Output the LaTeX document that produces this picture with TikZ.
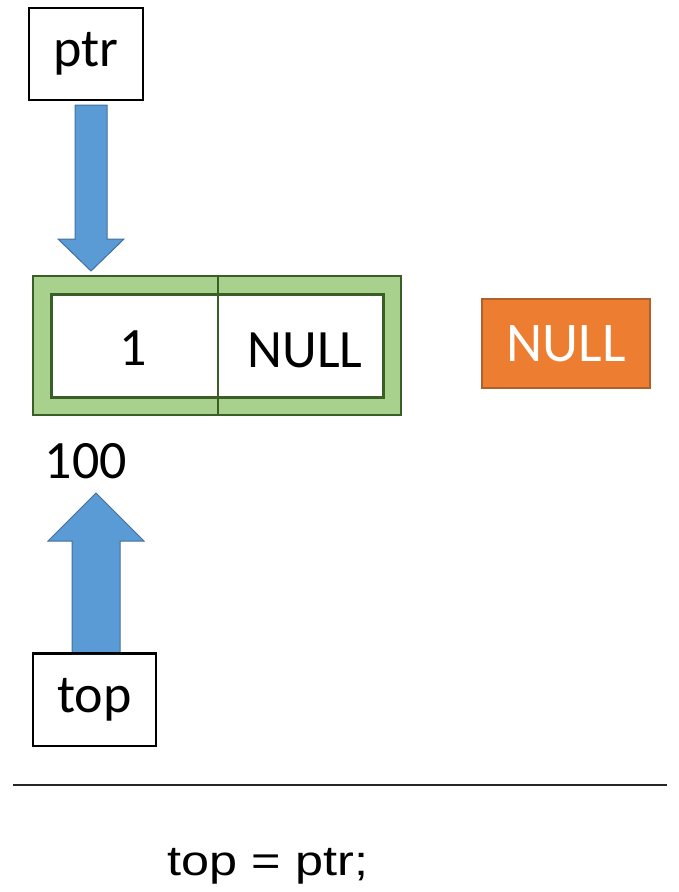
\documentclass[tikz,border=0pt]{standalone}
\usepackage{fontspec}
\setmainfont{Carlito}
\newfontfamily\codefont{Liberation Sans}
\usepackage{graphicx}
\definecolor{arrowfill}{HTML}{5B9BD5}
\definecolor{arrowline}{HTML}{41719C}
\definecolor{nodefill}{HTML}{A9D18E}
\definecolor{nodeline}{HTML}{3B5E27}
\definecolor{nullfill}{HTML}{ED7D31}
\definecolor{nullline}{HTML}{B0602A}
\tikzset{
  varbox/.style={draw=black, line width=2.2pt, fill=white, inner sep=0pt,
    font=\fontsize{54}{60}\selectfont},
  blockarrow/.style={fill=arrowfill, draw=arrowline, line width=1pt},
  cellbox/.style={inner sep=0pt, font=\fontsize{54}{60}\selectfont},
}
\begin{document}
\begin{tikzpicture}[x=1pt,y=-1pt]
\useasboundingbox (0,0) rectangle (679,892);

% pointer variable ptr
\node[varbox, minimum width=114pt, minimum height=92pt] (ptr) at (86,54) {ptr};

% list node: green frame, white inner box, divider
\draw[fill=nodefill, draw=nodeline, line width=1.5pt] (33,276) rectangle (401,415);
\draw[fill=white, draw=nodeline, line width=3pt] (51,294) rectangle (383,397);
\draw[draw=nodeline, line width=2pt] (218,276) -- (218,415);
\node[cellbox] (data) at (133,348) {1};
\node[cellbox] (next) at (305,350) {NULL};
\coordinate (nodetop) at (91,276);

% address label
\node[cellbox] (addr) at (86,461) {100};

% pointer variable top
\node[varbox, minimum width=123pt, minimum height=92pt] (top) at (94.5,700) {top};

% ptr -> node (block arrow)
\draw[blockarrow] (75,105) -- (107,105) -- (107,239) -- (124,239) -- (91,271)
  -- (58,239) -- (75,239) -- cycle;

% top -> node (block arrow)
\draw[blockarrow] (72,654) -- (72,541) -- (48,541) -- (96,493) -- (144,541)
  -- (120,541) -- (120,654);
\draw[black, line width=2.2pt] (top.north west) -- (top.north east);

% standalone NULL
\node[fill=nullfill, draw=nullline, line width=1.5pt, minimum width=168pt,
  minimum height=89pt, text=white, inner sep=0pt,
  font=\fontsize{56}{60}\selectfont] (null) at (566,343.5) {NULL};

% separator
\coordinate (sepL) at (13,785);
\coordinate (sepR) at (667,785);
\draw[black!85, line width=2.5pt] (sepL) -- (sepR);

% statement
\node[inner sep=0pt, anchor=base, font=\codefont\fontsize{42}{48}\selectfont]
  (stmt) at (268,875) {\scalebox{1.2}[1]{top = ptr;}};
\end{tikzpicture}
\end{document}
